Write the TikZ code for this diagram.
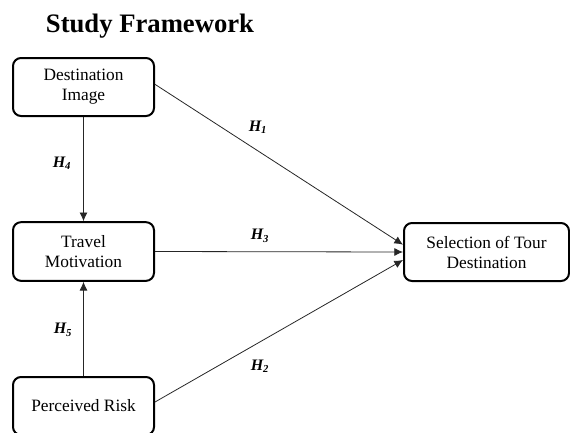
\documentclass[tikz,border=0pt]{standalone}
\usepackage{fontspec}
\setmainfont{Liberation Serif}
\usepackage{tikz}
\usetikzlibrary{arrows.meta}
\usetikzlibrary{shapes}

\tikzset{
  factor/.style={draw, line width=1.5pt, rounded corners=6pt, align=center,
    font=\fontsize{13}{15}\selectfont, inner sep=0pt},
  hyp/.style={-{Latex[length=6.5pt,width=6pt]}, line width=0.6pt, black!85},
  hlabel/.style={font=\fontsize{12}{14}\selectfont\bfseries\itshape}
}

\begin{document}
\begin{tikzpicture}[x=0.75pt, y=-0.75pt]
            \useasboundingbox (0,0) rectangle (570,432);
            \node [font=\fontsize{20}{24}\selectfont\bfseries] (title) at (150,26) {Study Framework};
            \node [factor, minimum width=105.75pt, minimum height=43.5pt] (img) at (83.5,87) {Destination\\Image};
            \node [factor, minimum width=105.75pt, minimum height=44pt] (mot) at (83.5,251.5) {Travel\\Motivation};
            \node [factor, minimum width=105.75pt, minimum height=43.5pt] (risk) at (83.5,406) {Perceived Risk};
            \node [factor, minimum width=123.75pt, minimum height=43.5pt] (sel) at (486.5,252) {Selection of Tour\\Destination};
            \coordinate (s1) at ([yshift=5.5pt]sel.west);
            \coordinate (s2) at (sel.west);
            \coordinate (s3) at ([yshift=-6pt]sel.west);
            \draw [hyp] (img.south) -- (mot.north);
            \draw [hyp] (risk.north) -- (mot.south);
            \draw [hyp] ([yshift=2pt]img.east) -- (s1);
            \draw [hyp] (mot.east) -- (s2);
            \draw [hyp] ([yshift=3pt]risk.east) -- (s3);
            \node [hlabel] (h1) at (258,127) {H\textsubscript{1}};
            \node [hlabel] (h4) at (62,163) {H\textsubscript{4}};
            \node [hlabel] (h3) at (260,236) {H\textsubscript{3}};
            \node [hlabel] (h5) at (63,330) {H\textsubscript{5}};
            \node [hlabel] (h2) at (260,366) {H\textsubscript{2}};
        \end{tikzpicture}
\end{document}
